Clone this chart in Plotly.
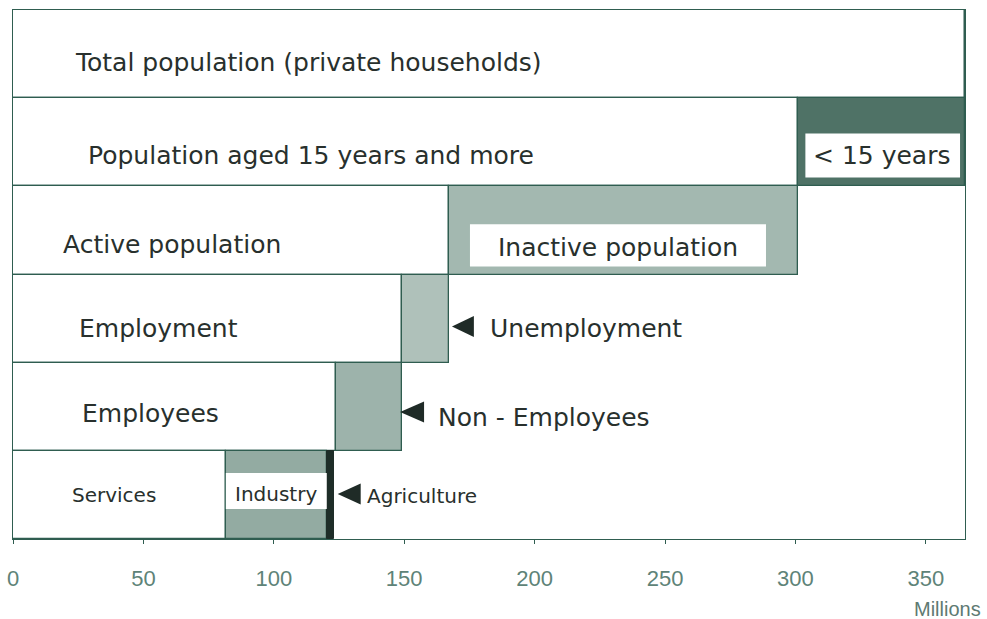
import plotly.graph_objects as go

# ---- data (millions) ----
rows = ["Total population (private households)",
        "Population aged 15 years and more",
        "Active population",
        "Employment",
        "Employees",
        "Services"]
# first (white) segment of each row (last row: services)
base_values = [365, 300.8, 167, 149, 123.8, 81.6]
# second segment of each row
second_values = [0, 64.2, 133.8, 18, 25.2, 38.7]
second_labels = ["", "< 15 years", "Inactive population", "Unemployment", "Non - Employees", "Industry"]
agriculture = 2.7

tick_vals = [0, 50, 100, 150, 200, 250, 300, 350]
tick_text = ["0", "50", "100", "150", "200", "250", "300", "350"]

LINE = "#2f5d50"
second_colors = ["#ffffff", "#4f7266", "#a3b8b0", "#afc1ba", "#9db3ab", "#93aba2"]

ypos = list(range(len(rows)))

fig = go.Figure()
fig.add_trace(go.Bar(y=ypos, x=base_values, orientation="h", width=1,
                     marker=dict(color="white", line=dict(color=LINE, width=1.3)),
                     hoverinfo="skip", showlegend=False))
fig.add_trace(go.Bar(y=ypos, x=second_values, base=base_values, orientation="h", width=1,
                     marker=dict(color=second_colors, line=dict(color=LINE, width=1.3)),
                     hoverinfo="skip", showlegend=False))
fig.add_trace(go.Bar(y=[5], x=[agriculture], base=[base_values[5] + second_values[5]],
                     orientation="h", width=1,
                     marker=dict(color="#1e2d28", line=dict(color="#1e2d28", width=1)),
                     hoverinfo="skip", showlegend=False))

FONT = "DejaVu Sans, Verdana, sans-serif"
TXT = "#28302d"
big = dict(family=FONT, size=25, color=TXT)
mid = dict(family=FONT, size=20, color=TXT)

ann = []
# left labels of rows
left_x = [23, 28, 18.4, 24.5, 25.7, 21.9]
y_shift = [0.09, 0.15, 0.16, 0.11, 0.08, 0.0]
for i, r in enumerate(rows):
    ann.append(dict(x=left_x[i], y=i + y_shift[i], text=r, xanchor="left", yanchor="middle",
                    showarrow=False, font=big if i < 5 else mid))

shapes = []
# "< 15 years" white box
x0 = base_values[1]
shapes.append(dict(type="rect", xref="x", yref="y", x0=x0 + 3, x1=x0 + second_values[1] - 1.9,
                   y0=1 - 0.10, y1=1 + 0.40, fillcolor="white", line=dict(width=0)))
ann.append(dict(x=x0 + 32, y=1 + 0.15, text=second_labels[1], showarrow=False,
                font=big, xanchor="center", yanchor="middle"))
# inactive white box
x0 = base_values[2]
shapes.append(dict(type="rect", xref="x", yref="y", x0=x0 + 8.2, x1=x0 + second_values[2] - 12.1,
                   y0=2 - 0.07, y1=2 + 0.41, fillcolor="white", line=dict(width=0)))
ann.append(dict(x=x0 + 65, y=2 + 0.19, text=second_labels[2],
                showarrow=False, font=big, xanchor="center", yanchor="middle"))
# industry white band
x0 = base_values[5]
shapes.append(dict(type="rect", xref="x", yref="y", x0=x0, x1=x0 + second_values[5],
                   y0=5 - 0.25, y1=5 + 0.16, fillcolor="white", line=dict(width=0), layer="above"))
ann.append(dict(x=x0 + second_values[5] / 2, y=5 - 0.01, text=second_labels[5], showarrow=False,
                font=mid, xanchor="center", yanchor="middle"))

# arrow triangles + labels pointing to narrow segments
def tri(xtip, yc, w=8.4, h=0.12):
    return dict(type="path", xref="x", yref="y",
                path=f"M {xtip},{yc} L {xtip + w},{yc - h} L {xtip + w},{yc + h} Z",
                fillcolor="#1f2b27", line=dict(width=0), layer="above")

end3 = base_values[3] + second_values[3]
shapes.append(tri(end3 + 1.3, 3 + 0.09))
ann.append(dict(x=end3 + 15, y=3 + 0.11, text=second_labels[3], xanchor="left", yanchor="middle",
                showarrow=False, font=big))
end4 = base_values[4] + second_values[4]
shapes.append(tri(end4 - 0.6, 4 + 0.06, w=9.2))
ann.append(dict(x=end4 + 13.2, y=4 + 0.125, text=second_labels[4], xanchor="left", yanchor="middle",
                showarrow=False, font=big))
end5 = base_values[5] + second_values[5] + agriculture
shapes.append(tri(end5 + 1.5, 5 - 0.01, w=8.8, h=0.12))
ann.append(dict(x=end5 + 12, y=5 + 0.01, text="Agriculture", xanchor="left", yanchor="middle",
                showarrow=False, font=mid))

ann.append(dict(xref="paper", yref="paper", x=(983 - 13) / 952, y=-(609 - 539) / 529,
                text="Millions", showarrow=False,
                xanchor="right", yanchor="middle",
                font=dict(family="Liberation Sans, Arial, sans-serif", size=20, color="#5e7a72")))

fig.update_layout(
    width=987, height=619,
    margin=dict(l=13, r=22, t=10, b=80, autoexpand=False),
    paper_bgcolor="white", plot_bgcolor="white",
    barmode="overlay", bargap=0,
    annotations=ann, shapes=shapes,
    xaxis=dict(range=[0, 365], tickvals=tick_vals, ticktext=tick_text, showgrid=False,
               zeroline=False, showline=True, linecolor=LINE, linewidth=1.3, mirror=True,
               ticks="outside", ticklen=4, tickcolor=LINE,
               ticklabelstandoff=15,
               tickfont=dict(family="Liberation Sans, Arial, sans-serif", size=22, color="#5e8378")),
    yaxis=dict(range=[5.5, -0.5], showticklabels=False, showgrid=False, zeroline=False,
               showline=True, linecolor=LINE, linewidth=1.3, mirror=True, ticks=""),
)

fig.write_html("out.html", config={"displayModeBar": False},
               post_script="document.body.style.margin='0';document.body.style.overflow='hidden';")
